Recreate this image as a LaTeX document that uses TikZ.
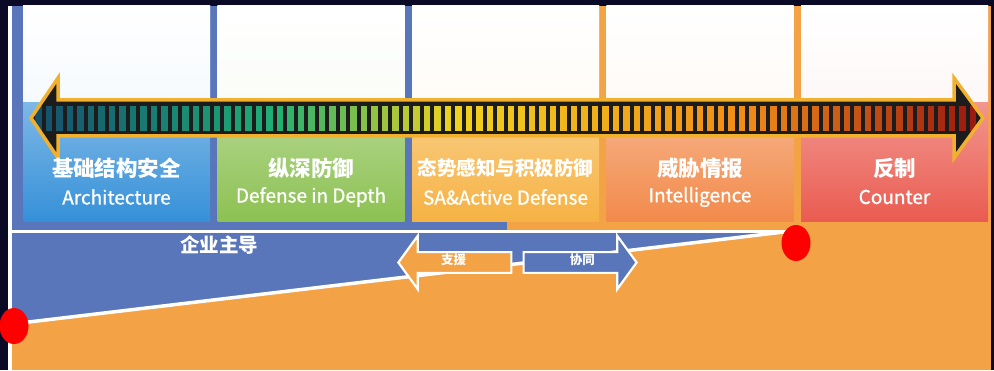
\documentclass[tikz,border=0pt]{standalone}
\usepackage{fontspec}
\setmainfont{Noto Sans CJK SC}
\newfontfamily\enfont[FakeBold=1]{Noto Sans CJK SC}
\usepackage{tikz}
\usetikzlibrary{positioning, shapes.geometric, shapes.arrows}

\definecolor{navy}{HTML}{0A0A26}
\definecolor{frameBlue}{HTML}{5876B9}
\definecolor{frameOrange}{HTML}{F4A246}
\definecolor{archBlue}{HTML}{3590D8}
\definecolor{depthGreen}{HTML}{8CC152}
\definecolor{saYellow}{HTML}{F6B243}
\definecolor{intelOrange}{HTML}{F28A4A}
\definecolor{counterRed}{HTML}{EA5B50}
\definecolor{rimGold}{HTML}{F1B12E}
\definecolor{shaftDark}{HTML}{1C1C1C}
\definecolor{segA}{HTML}{14506E}
\definecolor{segB}{HTML}{1FAF75}
\definecolor{segC}{HTML}{F0D21E}
\definecolor{segD}{HTML}{F08C19}
\definecolor{segE}{HTML}{96140F}

\newcommand{\timelinepath}{(31,252) -- (58,292) -- (58,270) -- (954,270) -- (954,292) -- (983,252) -- (954,212) -- (954,234) -- (58,234) -- (58,212) -- cycle}

\begin{document}
\begin{tikzpicture}[x=1pt, y=1pt, node distance=194.5pt and 194.5pt, on grid,
    panel/.style={rectangle, minimum width=187pt, minimum height=216pt, inner sep=0pt, outer sep=0pt,
        top color=#1!35!white, bottom color=#1,
        path picture={\fill[top color=white, bottom color=#1!10!white]
            (path picture bounding box.north west) rectangle ([yshift=-96pt]path picture bounding box.north east);}},
    cnlabel/.style={text=white, font=\bfseries\fontsize{21.5}{24}\selectfont, inner sep=0pt},
    enlabel/.style={text=white, font=\enfont\fontsize{19}{22}\selectfont, inner sep=0pt},
    leadlabel/.style={text=white, font=\bfseries\fontsize{19.5}{22}\selectfont, inner sep=0pt},
    helparrow/.style={single arrow, draw=white, line width=2.2pt, minimum height=113pt,
        single arrow head extend=16.4pt, single arrow tip angle=108, single arrow head indent=0pt,
        inner xsep=2pt, inner ysep=3.5pt, text height=8pt, text depth=3.5pt, anchor=tip,
        text=white, font=\bfseries\fontsize{12.5}{12.5}\selectfont},
    reddot/.style={ellipse, fill=red, minimum width=29pt, minimum height=36pt, inner sep=0pt},
    sepline/.style={white, line width=3.5pt}]

    % Background
    \fill[navy] (0,0) rectangle (994,370);
    \useasboundingbox (0,0) rectangle (994,370);
    \fill[frameOrange] (12,0) rectangle (991,364);
    \fill[frameBlue] (12,140) rectangle (507,364);
    \draw[white, line width=4pt] (9.5,0) -- (9.5,364);

    % Panels
    \node[panel=archBlue] (arch) at (116.5,256) {};
    \node[panel=depthGreen] (depth) [right=of arch] {};
    \node[panel=saYellow] (active) [right=of depth] {};
    \node[panel=intelOrange] (intel) [right=of active] {};
    \node[panel=counterRed] (counter) [right=of intel] {};

    % Timeline arrow
    \fill[shaftDark] \timelinepath;
    \begin{scope}
        \clip \timelinepath;
        \foreach \i in {0,...,89} {
            \pgfmathsetmacro\sx{35+10.5*\i}
            \ifdim\sx pt<270pt
                \pgfmathtruncatemacro\p{(\sx-35)/235*100}\colorlet{segc}{segB!\p!segA}
            \else\ifdim\sx pt<450pt
                \pgfmathtruncatemacro\p{(\sx-270)/180*100}\colorlet{segc}{segC!\p!segB}
            \else\ifdim\sx pt<740pt
                \pgfmathtruncatemacro\p{(\sx-450)/290*100}\colorlet{segc}{segD!\p!segC}
            \else
                \pgfmathtruncatemacro\p{(\sx-740)/240*100}\colorlet{segc}{segE!\p!segD}
            \fi\fi\fi
            \fill[segc] (\sx,239) rectangle ++(6.5,25);
        }
    \end{scope}
    \draw[rimGold, line width=3.5pt] \timelinepath;

    % Labels
    \node[cnlabel] (archCN) at ([yshift=54pt]arch.south) {基础结构安全};
    \node[enlabel] (archEN) [below=29pt of archCN] {Architecture};
    \node[cnlabel] (depthCN) at ([yshift=54pt]depth.south) {纵深防御};
    \node[enlabel] (depthEN) [below=29pt of depthCN] {Defense in Depth};
    \node[cnlabel, font=\bfseries\fontsize{19.5}{22}\selectfont] (activeCN) at ([yshift=54pt]active.south) {态势感知与积极防御};
    \node[enlabel] (activeEN) [below=29pt of activeCN] {SA\&Active Defense};
    \node[cnlabel] (intelCN) at ([yshift=54pt]intel.south) {威胁情报};
    \node[enlabel] (intelEN) [below=29pt of intelCN] {Intelligence};
    \node[cnlabel] (counterCN) at ([yshift=54pt]counter.south) {反制};
    \node[enlabel] (counterEN) [below=29pt of counterCN] {Counter};

    % Lower part
    \coordinate (leftTop) at (12,138.5);
    \coordinate (lowEnd) at (12,46);
    \coordinate (highEnd) at (788,138.5);
    \fill[frameBlue] (leftTop) -- (highEnd) -- (lowEnd) -- cycle;
    \draw[sepline] (leftTop) -- (highEnd);
    \draw[sepline] (lowEnd) -- (highEnd);
    \node[reddot] (dotLow) at (14,44) {};
    \node[reddot] (dotHigh) at (796,127) {};
    \node[leadlabel] (lead) at (219,125) {企业主导};
    \node[helparrow, fill=frameOrange, shape border rotate=180] (support) at (397,107.5) {\kern-5pt支援\kern5pt};
    \node[helparrow, fill=frameBlue] (cooperate) at (638,107.5) {\kern6pt协同\kern-6pt};

\end{tikzpicture}
\end{document}
